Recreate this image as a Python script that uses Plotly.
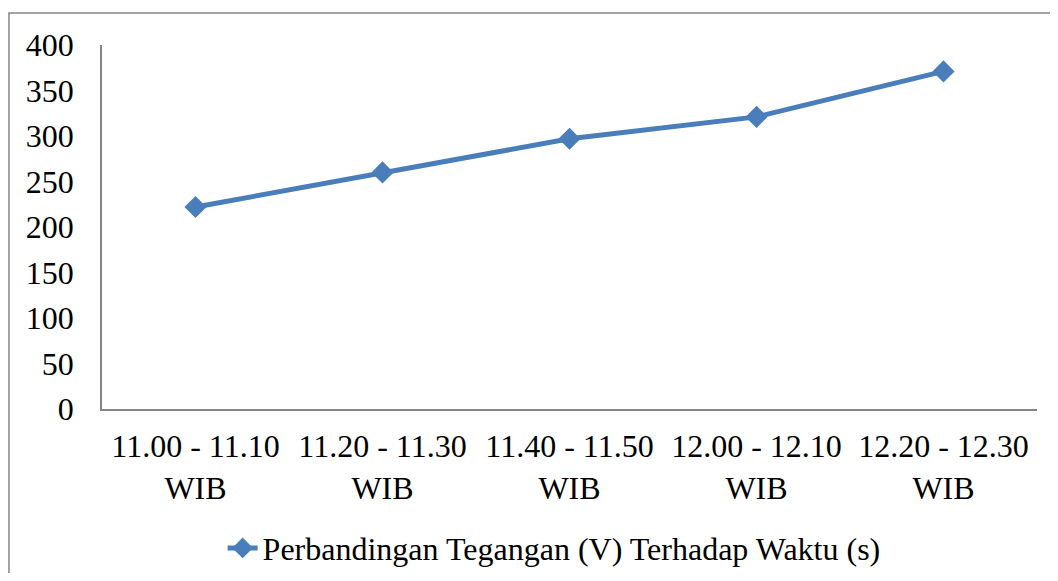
import plotly.graph_objects as go

# data
categories = [
    "11.00 - 11.10<br>WIB",
    "11.20 - 11.30<br>WIB",
    "11.40 - 11.50<br>WIB",
    "12.00 - 12.10<br>WIB",
    "12.20 - 12.30<br>WIB",
]
tegangan = [222, 260, 297, 321, 371]
y_ticks = [0, 50, 100, 150, 200, 250, 300, 350, 400]
series_name = "Perbandingan Tegangan (V) Terhadap Waktu (s)"

LINE_COLOR = "#4a7ebb"
AXIS_COLOR = "#868686"
FONT = "Liberation Serif, Times New Roman, serif"

fig = go.Figure()
fig.add_trace(go.Scatter(
    x=categories, y=tegangan,
    name=series_name,
    mode="lines+markers",
    line=dict(color=LINE_COLOR, width=5),
    marker=dict(symbol="diamond", size=17, color=LINE_COLOR),
))

# page body adds an 8px margin all round, so keep the figure inside the window
fig.update_layout(
    width=1042, height=565,
    margin=dict(l=94, r=13, t=37, b=164),
    plot_bgcolor="white",
    paper_bgcolor="white",
    font=dict(family=FONT, size=32, color="black"),
    showlegend=True,
    # container coords so the legend does not push the bottom margin
    legend=dict(
        orientation="h",
        x=0.129, xanchor="left",
        yref="container", y=0.044, yanchor="middle",
        font=dict(size=32),
        bgcolor="rgba(0,0,0,0)",
    ),
    # outer chart-area border (left and top only visible in the reference)
    shapes=[dict(
        type="rect", xref="paper", yref="paper",
        x0=-0.0995, x1=1.04, y0=-0.53, y1=1.088,
        line=dict(color=AXIS_COLOR, width=1.5),
        fillcolor="rgba(0,0,0,0)",
        layer="below",
    )],
)

fig.update_xaxes(
    type="category",
    range=[-0.5, 4.5],
    showline=True, linecolor=AXIS_COLOR, linewidth=1.5,
    showgrid=False, zeroline=False,
    ticks="", ticklabelstandoff=8,
    tickangle=0, automargin=False,
)
fig.update_yaxes(
    range=[0, 400],
    tickvals=y_ticks,
    showline=True, linecolor=AXIS_COLOR, linewidth=1.5,
    showgrid=False, zeroline=False,
    ticks="", ticklabelstandoff=20,
    automargin=False,
)

fig.write_html("out.html")
